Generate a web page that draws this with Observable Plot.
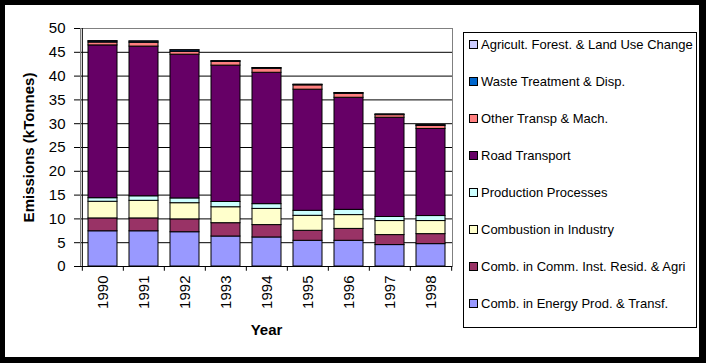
<!DOCTYPE html>
<html>
<head>
<meta charset="utf-8">
<script src="https://cdn.jsdelivr.net/npm/d3@7"></script>
<script src="https://cdn.jsdelivr.net/npm/@observablehq/plot@0.6"></script>
<style>
  html, body { margin: 0; padding: 0; background: #000; }
  #wrap { position: relative; width: 706px; height: 363px; background: #000; overflow: hidden; font-family: "Liberation Sans", Arial, sans-serif; }
  #inner { position: absolute; left: 5px; top: 5px; width: 694px; height: 352px; background: #fff; }
  #chart { position: absolute; left: 0; top: 0; }
  #legend { position: absolute; left: 463px; top: 32px; width: 232px; height: 294px; border: 1px solid #000; background: #fff; box-sizing: content-box; }
  .item { position: absolute; left: 5px; height: 16px; display: flex; align-items: center; font-size: 13px; white-space: nowrap; color: #000; }
  .sw { width: 7px; height: 7px; border: 1px solid #000; margin-right: 3px; }
</style>
</head>
<body>
<div id="wrap">
  <div id="inner"></div>
  <div id="chart"></div>
  <div id="legend"></div>
</div>
<script>
const years = ["1990","1991","1992","1993","1994","1995","1996","1997","1998"];
const seriesNames = [
  "Comb. in Energy Prod. & Transf.",
  "Comb. in Comm. Inst. Resid. & Agri",
  "Combustion in Industry",
  "Production Processes",
  "Road Transport",
  "Other Transp & Mach.",
  "Waste Treatment & Disp.",
  "Agricult. Forest. & Land Use Change"
];
const colors = ["#9999FF","#993366","#FFFFCC","#CCFFFF","#660066","#FF8080","#0066CC","#CCCCFF"];

const energyProd   = [7.4, 7.4, 7.2, 6.3, 6.1, 5.4, 5.4, 4.5, 4.7];
const commInstRes  = [2.7, 2.7, 2.7, 2.8, 2.6, 2.1, 2.5, 2.1, 2.1];
const combIndustry = [3.5, 3.7, 3.4, 3.35, 3.4, 3.15, 2.9, 2.95, 2.75];
const prodProc     = [0.75, 0.95, 1.0, 1.1, 1.0, 1.05, 1.1, 0.85, 1.05];
const roadTransp   = [32.1, 31.45, 30.2, 28.65, 27.6, 25.45, 23.55, 20.85, 18.3];
const otherTransp  = [0.6, 0.8, 0.6, 0.8, 0.85, 0.9, 0.85, 0.55, 0.65];
const wasteTreat   = [0.25, 0.25, 0.3, 0.1, 0.1, 0.1, 0.1, 0.1, 0.1];
const agriForest   = [0.05, 0.05, 0.05, 0.05, 0.05, 0.05, 0.05, 0.05, 0.05];
const yTicks = [0, 5, 10, 15, 20, 25, 30, 35, 40, 45, 50];

const seriesValues = [energyProd, commInstRes, combIndustry, prodProc, roadTransp, otherTransp, wasteTreat, agriForest];
const data = [];
seriesValues.forEach((vals, si) => {
  vals.forEach((v, i) => data.push({year: years[i], series: seriesNames[si], value: v}));
});

const W = 706, H = 363, mL = 80, mR = 254, mT = 28, mB = 97;
const step = (W - mL - mR) / years.length;

const chart = Plot.plot({
  width: W, height: H,
  marginLeft: mL, marginRight: mR, marginTop: mT, marginBottom: mB,
  style: {background: "transparent", fontFamily: "Liberation Sans, Arial, sans-serif", fontSize: "15px", color: "#000", overflow: "visible"},
  x: {domain: years, paddingInner: 0.3, paddingOuter: 0.15, axis: null},
  y: {domain: [0, 50], axis: null},
  color: {domain: seriesNames, range: colors},
  marks: [
    Plot.ruleY(yTicks.filter(t => t > 0 && t < 50), {stroke: "#000", strokeWidth: 1}),
    Plot.frame({stroke: "#808080"}),
    Plot.barY(data, {x: "year", y: "value", fill: "series", stroke: "#000", strokeWidth: 1, order: seriesNames}),
    Plot.ruleY([0], {stroke: "#000"}),
    Plot.ruleX([years[0]], {dx: -step / 2, stroke: "#000"}),
    Plot.ruleX(years, {x: d => d, dx: -step / 2, y1: 0, y2: -1, stroke: "#000"}),
    Plot.ruleX([years[years.length - 1]], {x: d => d, dx: step / 2, y1: 0, y2: -1, stroke: "#000"}),
    Plot.axisY({ticks: yTicks, tickSize: 6, tickPadding: 9, label: null, fontSize: 15, stroke: "#000"}),
    Plot.axisX({tickRotate: -90, tickSize: 0, tickPadding: 9, label: null, fontSize: 15}),
    Plot.text(["Emissions (kTonnes)"], {frameAnchor: "left", textAnchor: "middle", rotate: -90, dx: -51, fontWeight: "bold", fontSize: 15}),
    Plot.text(["Year"], {frameAnchor: "bottom", dy: 68, fontWeight: "bold", fontSize: 15})
  ]
});
document.getElementById("chart").appendChild(chart);

const legend = document.getElementById("legend");
const order = seriesNames.map((n, i) => i).reverse();
order.forEach((si, k) => {
  const it = document.createElement("div");
  it.className = "item";
  it.style.top = (3 + k * 37) + "px";
  const sw = document.createElement("div");
  sw.className = "sw";
  sw.style.background = colors[si];
  const tx = document.createElement("span");
  tx.textContent = seriesNames[si];
  it.appendChild(sw);
  it.appendChild(tx);
  legend.appendChild(it);
});
</script>
</body>
</html>
